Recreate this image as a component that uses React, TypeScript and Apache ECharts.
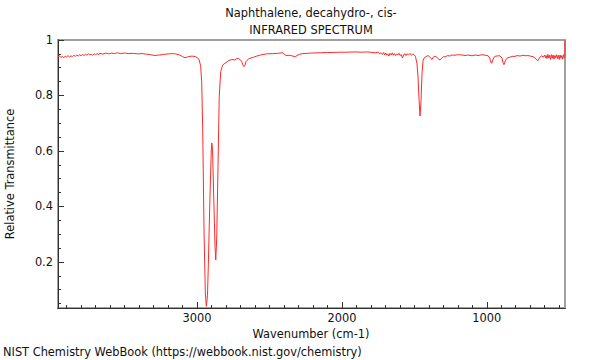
import React, { useEffect, useRef } from "react";
import * as echarts from "echarts";

const titleLines = ["Naphthalene, decahydro-, cis-", "INFRARED SPECTRUM"];
const xAxisName = "Wavenumber (cm-1)";
const yAxisName = "Relative Transmittance";
const footer = "NIST Chemistry WebBook (https://webbook.nist.gov/chemistry)";

const xMajorTicks = [1000, 2000, 3000];
const xMinorTicks = [
  500, 600, 700, 800, 900, 1000, 1100, 1200, 1300, 1400, 1500, 1600, 1700, 1800, 1900, 2000,
  2100, 2200, 2300, 2400, 2500, 2600, 2700, 2800, 2900, 3000, 3100, 3200, 3300, 3400, 3500,
  3600, 3700, 3800, 3900,
];
const yMajorTicks = [0.2, 0.4, 0.6, 0.8, 1];
const yMinorTicks = [
  0.05, 0.1, 0.15, 0.2, 0.25, 0.3, 0.35, 0.4, 0.45, 0.5, 0.55, 0.6, 0.65, 0.7, 0.75, 0.8, 0.85,
  0.9, 0.95, 1,
];

const wavenumbers = [
  3960, 3950, 3940, 3930, 3920, 3910, 3900, 3890, 3880, 3870, 3860, 3850, 3840, 3830, 3820, 3810,
  3800, 3790, 3780, 3770, 3760, 3750, 3740, 3730, 3720, 3710, 3700, 3690, 3680, 3670, 3650, 3630,
  3610, 3590, 3570, 3550, 3530, 3500, 3470, 3440, 3410, 3380, 3350, 3320, 3290, 3260, 3230, 3200,
  3170, 3150, 3120, 3100, 3083, 3060, 3035, 3010, 2995, 2985, 2975, 2968, 2961, 2952, 2943, 2936,
  2933, 2928, 2922, 2911, 2902, 2898, 2893, 2885, 2876, 2871, 2864, 2855, 2847, 2837, 2823, 2807,
  2784, 2760, 2740, 2725, 2715, 2700, 2692, 2683, 2676, 2668, 2662, 2645, 2635, 2610, 2588, 2560,
  2519, 2480, 2440, 2427, 2407, 2395, 2380, 2358, 2340, 2320, 2310, 2295, 2270, 2240, 2207, 2150,
  2100, 2069, 2020, 1970, 1910, 1860, 1820, 1793, 1770, 1750, 1740, 1730, 1720, 1712, 1705, 1698,
  1690, 1683, 1676, 1668, 1660, 1652, 1645, 1638, 1630, 1622, 1614, 1606, 1598, 1590, 1582, 1574,
  1566, 1558, 1550, 1540, 1530, 1520, 1510, 1500, 1492, 1482, 1475, 1468, 1461, 1454, 1447, 1440,
  1433, 1420, 1406, 1395, 1385, 1378, 1370, 1358, 1345, 1335, 1323, 1310, 1300, 1288, 1270, 1255,
  1240, 1220, 1200, 1171, 1150, 1130, 1102, 1080, 1060, 1033, 1010, 991, 980, 972, 966, 958, 950,
  942, 925, 909, 895, 888, 881, 872, 863, 854, 840, 825, 805, 790, 770, 750, 730, 716, 700, 680,
  660, 648, 640, 630, 620, 610, 600, 595, 590, 584, 578, 572, 566, 560, 554, 548, 542, 536, 530,
  524, 518, 512, 506, 500, 494, 488, 482, 476, 470, 464, 461, 460,
];

const transmittance = [
  0.938, 0.943, 0.937, 0.941, 0.936, 0.942, 0.939, 0.944, 0.938, 0.943, 0.94, 0.945, 0.941, 0.946,
  0.942, 0.947, 0.943, 0.948, 0.944, 0.949, 0.945, 0.95, 0.946, 0.948, 0.945, 0.95, 0.947, 0.951,
  0.948, 0.952, 0.949, 0.953, 0.95, 0.953, 0.951, 0.954, 0.951, 0.953, 0.951, 0.952, 0.95, 0.951,
  0.949, 0.947, 0.944, 0.946, 0.948, 0.95, 0.951, 0.95, 0.946, 0.94, 0.936, 0.94, 0.942, 0.94,
  0.935, 0.928, 0.905, 0.85, 0.676, 0.315, 0.088, 0.04, 0.039, 0.08, 0.196, 0.434, 0.6, 0.629, 0.6,
  0.434, 0.254, 0.207, 0.29, 0.557, 0.795, 0.886, 0.91, 0.916, 0.925, 0.93, 0.928, 0.933, 0.934,
  0.928, 0.922, 0.91, 0.904, 0.91, 0.922, 0.932, 0.934, 0.938, 0.942, 0.946, 0.95, 0.951, 0.952,
  0.953, 0.954, 0.947, 0.944, 0.945, 0.942, 0.94, 0.944, 0.948, 0.951, 0.952, 0.953, 0.954, 0.955,
  0.955, 0.956, 0.956, 0.957, 0.956, 0.957, 0.955, 0.954, 0.956, 0.95, 0.954, 0.948, 0.955, 0.946,
  0.953, 0.945, 0.95, 0.942, 0.952, 0.946, 0.954, 0.945, 0.951, 0.944, 0.95, 0.946, 0.952, 0.944,
  0.948, 0.935, 0.946, 0.951, 0.944, 0.95, 0.946, 0.952, 0.945, 0.95, 0.946, 0.94, 0.915, 0.87,
  0.79, 0.726, 0.78, 0.88, 0.925, 0.935, 0.94, 0.944, 0.94, 0.933, 0.93, 0.938, 0.942, 0.938, 0.932,
  0.928, 0.935, 0.94, 0.939, 0.944, 0.942, 0.946, 0.945, 0.947, 0.946, 0.944, 0.946, 0.943, 0.946,
  0.944, 0.947, 0.945, 0.943, 0.935, 0.92, 0.916, 0.928, 0.938, 0.941, 0.943, 0.943, 0.935, 0.918,
  0.911, 0.925, 0.933, 0.936, 0.938, 0.941, 0.941, 0.944, 0.942, 0.945, 0.943, 0.944, 0.942, 0.94,
  0.932, 0.925, 0.932, 0.94, 0.943, 0.938, 0.946, 0.936, 0.944, 0.933, 0.948, 0.935, 0.945, 0.93,
  0.947, 0.934, 0.946, 0.931, 0.944, 0.936, 0.947, 0.933, 0.945, 0.93, 0.946, 0.934, 0.944, 0.931,
  0.947, 0.935, 0.94, 1.0,
];

const X_MIN = 460;
const X_MAX = 3960;
const Y_MIN = 0.034;
const Y_MAX = 1;

const FONT = "DejaVu Sans";
const FS = 11.4;
const TXT = "#111";

export default function App() {
  const ref = useRef<HTMLDivElement>(null);

  useEffect(() => {
    if (!ref.current) return;
    const chart = echarts.init(ref.current, undefined, { renderer: "svg" });
    const data = wavenumbers.map((w, i) => [w, transmittance[i]]);

    const baseX = {
      type: "value" as const,
      inverse: true,
      min: X_MIN,
      max: X_MAX,
      position: "bottom" as const,
      splitLine: { show: false },
      axisLine: { show: true, lineStyle: { color: "#333", width: 1 } },
    };
    const baseY = {
      type: "value" as const,
      min: Y_MIN,
      max: Y_MAX,
      position: "left" as const,
      splitLine: { show: false },
      axisLine: { show: true, lineStyle: { color: "#333", width: 1 } },
    };

    chart.setOption({
      animation: false,
      grid: {
        left: 58,
        right: 35,
        top: 40,
        bottom: 52,
        show: true,
        borderColor: "#a0a0a0",
        borderWidth: 2,
        backgroundColor: "transparent",
      },
      xAxis: [
        {
          ...baseX,
          axisTick: {
            show: true,
            inside: true,
            length: 3,
            customValues: xMinorTicks,
            lineStyle: { color: "#333" },
          },
          axisLabel: { show: false },
        },
        {
          ...baseX,
          axisTick: {
            show: true,
            inside: true,
            length: 6,
            customValues: xMajorTicks,
            lineStyle: { color: "#333" },
          },
          axisLabel: {
            show: true,
            customValues: xMajorTicks,
            margin: 4,
            fontFamily: FONT,
            fontSize: FS,
            color: TXT,
            formatter: (v: number) => String(v),
          },
        },
      ],
      yAxis: [
        {
          ...baseY,
          axisTick: {
            show: true,
            inside: true,
            length: 3,
            customValues: yMinorTicks,
            lineStyle: { color: "#333" },
          },
          axisLabel: { show: false },
        },
        {
          ...baseY,
          axisTick: {
            show: true,
            inside: true,
            length: 6,
            customValues: yMajorTicks,
            lineStyle: { color: "#333" },
          },
          axisLabel: {
            show: true,
            customValues: yMajorTicks,
            margin: 5,
            fontFamily: FONT,
            fontSize: FS,
            color: TXT,
            formatter: (v: number) => String(Math.round(v * 10) / 10),
          },
        },
      ],
      series: [
        {
          type: "line",
          xAxisIndex: 0,
          yAxisIndex: 0,
          data,
          showSymbol: false,
          symbol: "none",
          clip: true,
          lineStyle: { color: "#ff2a2a", width: 1 },
        },
      ],
      graphic: [
        {
          type: "text",
          x: 311,
          y: 13,
          style: {
            text: titleLines[0],
            fontFamily: FONT,
            fontSize: FS,
            fill: TXT,
            textAlign: "center",
            textVerticalAlign: "middle",
          },
        },
        {
          type: "text",
          x: 311,
          y: 30,
          style: {
            text: titleLines[1],
            fontFamily: FONT,
            fontSize: FS,
            fill: TXT,
            textAlign: "center",
            textVerticalAlign: "middle",
          },
        },
        {
          type: "text",
          x: 10,
          y: 174,
          rotation: Math.PI / 2,
          style: {
            text: yAxisName,
            fontFamily: FONT,
            fontSize: FS,
            fill: TXT,
            textAlign: "center",
            textVerticalAlign: "middle",
          },
        },
        {
          type: "text",
          x: 311,
          y: 333.5,
          style: {
            text: xAxisName,
            fontFamily: FONT,
            fontSize: FS,
            fill: TXT,
            textAlign: "center",
            textVerticalAlign: "middle",
          },
        },
        {
          type: "text",
          x: 3,
          y: 352,
          style: {
            text: footer,
            fontFamily: FONT,
            fontSize: FS,
            fill: TXT,
            textAlign: "left",
            textVerticalAlign: "middle",
          },
        },
      ],
    });

    return () => {
      chart.dispose();
    };
  }, []);

  return (
    <div
      ref={ref}
      style={{ position: "fixed", left: 0, top: 0, width: 600, height: 360, background: "#fff" }}
    />
  );
}
